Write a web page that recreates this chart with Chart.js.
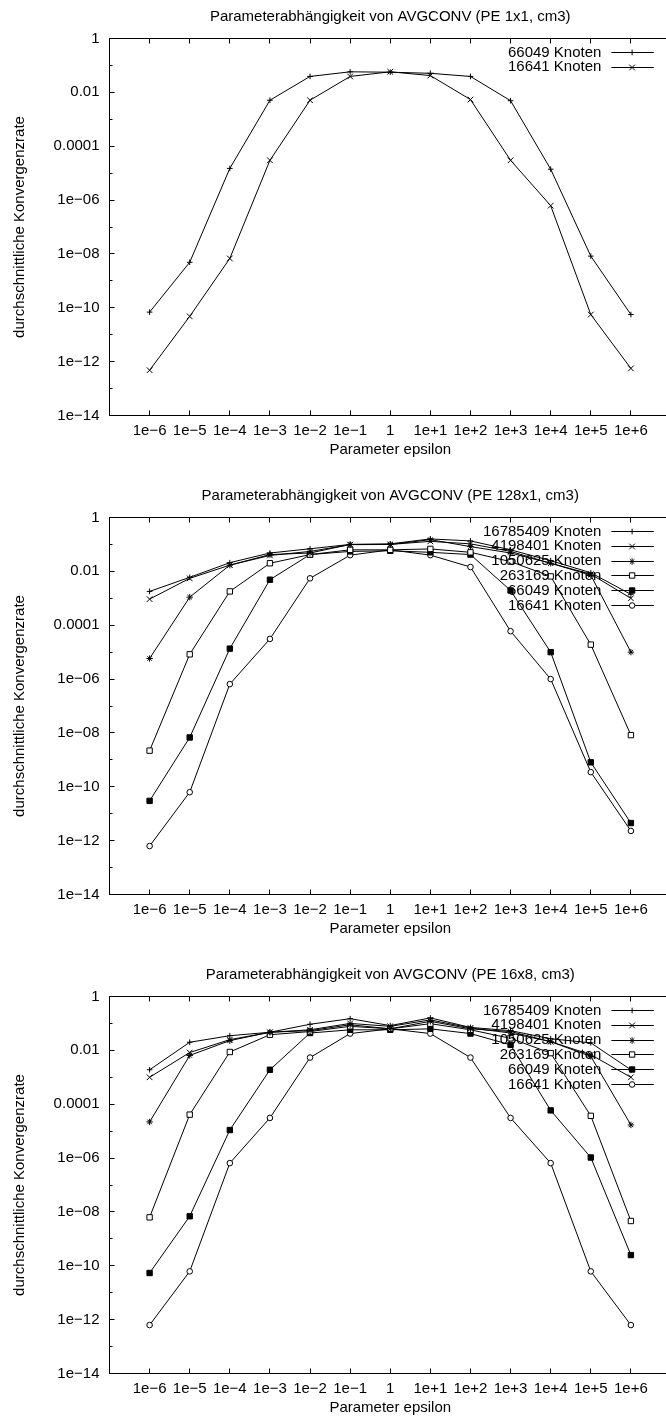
<!DOCTYPE html>
<html>
<head>
<meta charset="utf-8">
<title>Parameterabhängigkeit von AVGCONV</title>
<script src="https://cdn.jsdelivr.net/npm/chart.js@4.4.1/dist/chart.umd.min.js"></script>
<style>
    html, body { margin: 0; padding: 0; background: #fff; overflow: hidden; }
    .plot { position: absolute; left: 0; width: 676px; height: 479px; }
</style>
</head>
<body>
<div class="plot" style="top:0"><canvas id="plot1x1" width="676" height="479"></canvas></div>
<div class="plot" style="top:479px"><canvas id="plot128x1" width="676" height="479"></canvas></div>
<div class="plot" style="top:958px"><canvas id="plot16x8" width="676" height="479"></canvas></div>
<script>
// x categories (parameter epsilon) and y tick labels
const epsilonLabels = ['1e−6', '1e−5', '1e−4', '1e−3', '1e−2', '1e−1', '1',
    '1e+1', '1e+2', '1e+3', '1e+4', '1e+5', '1e+6'];
const yTickValues = [1, 1e-2, 1e-4, 1e-6, 1e-8, 1e-10, 1e-12, 1e-14];
const yTickLabels = ['1', '0.01', '0.0001', '1e−06', '1e−08', '1e−10', '1e−12', '1e−14'];

const seriesNames = ['16785409 Knoten', '4198401 Knoten', '1050625 Knoten',
    '263169 Knoten', '66049 Knoten', '16641 Knoten'];

// PE 1x1
const pe1x1_66049 = [6.9e-11, 4.9e-9, 1.5e-5, 5.1e-3, 3.9e-2, 5.8e-2, 5.6e-2, 5.1e-2, 3.9e-2, 4.9e-3, 1.4e-5, 8.3e-9, 5.6e-11];
const pe1x1_16641 = [4.8e-13, 4.8e-11, 6.8e-9, 3.0e-5, 5.1e-3, 3.9e-2, 5.8e-2, 4.2e-2, 5.4e-3, 3.0e-5, 6.2e-7, 5.6e-11, 5.6e-13];

// PE 128x1
const pe128x1_16785409 = [1.8e-3, 6.0e-3, 2.1e-2, 4.8e-2, 6.9e-2, 1.0e-1, 1.05e-1, 1.6e-1, 1.35e-1, 6.3e-2, 2.5e-2, 8.9e-3, 1.4e-3];
const pe128x1_4198401 = [9.3e-4, 5.5e-3, 1.7e-2, 3.9e-2, 5.5e-2, 9.8e-2, 1.0e-1, 1.3e-1, 1.05e-1, 5.5e-2, 2.0e-2, 7.9e-3, 1.0e-3];
const pe128x1_1050625 = [5.8e-6, 1.1e-3, 1.7e-2, 4.2e-2, 4.8e-2, 1.0e-1, 1.0e-1, 1.5e-1, 8.3e-2, 4.8e-2, 2.0e-2, 7.2e-3, 1.0e-5];
const pe128x1_263169 = [2.2e-9, 8.3e-6, 1.8e-3, 2.0e-2, 4.2e-2, 6.3e-2, 6.3e-2, 6.8e-2, 5.1e-2, 2.3e-2, 6.5e-3, 1.9e-5, 8.3e-9];
const pe128x1_66049 = [3.0e-11, 6.8e-9, 1.35e-5, 4.9e-3, 4.2e-2, 5.5e-2, 5.8e-2, 5.1e-2, 4.2e-2, 1.95e-3, 1.0e-5, 8.1e-10, 4.5e-12];
const pe128x1_16641 = [6.3e-13, 6.3e-11, 6.5e-7, 3.1e-5, 5.5e-3, 4.0e-2, 6.3e-2, 4.0e-2, 1.45e-2, 6.0e-5, 1.0e-6, 3.5e-10, 2.3e-12];

// PE 16x8
const pe16x8_16785409 = [1.9e-3, 2.0e-2, 3.5e-2, 4.7e-2, 9.3e-2, 1.5e-1, 8.3e-2, 1.6e-1, 7.1e-2, 5.4e-2, 2.7e-2, 1.9e-2, 1.9e-3];
const pe16x8_4198401 = [1.0e-3, 8.3e-3, 2.5e-2, 4.7e-2, 5.8e-2, 1.0e-1, 7.8e-2, 1.35e-1, 6.8e-2, 4.4e-2, 2.1e-2, 6.9e-3, 1.0e-3];
const pe16x8_1050625 = [2.2e-5, 6.5e-3, 2.3e-2, 4.7e-2, 5.4e-2, 8.9e-2, 6.3e-2, 1.2e-1, 6.3e-2, 5.0e-2, 2.1e-2, 6.0e-3, 1.7e-5];
const pe16x8_263169 = [6.3e-9, 4.1e-5, 8.7e-3, 3.8e-2, 5.0e-2, 7.8e-2, 6.3e-2, 9.8e-2, 5.8e-2, 2.8e-2, 7.9e-3, 3.7e-5, 4.6e-9];
const pe16x8_66049 = [5.4e-11, 6.9e-9, 1.1e-5, 1.9e-3, 4.4e-2, 5.8e-2, 5.8e-2, 6.3e-2, 4.2e-2, 1.6e-2, 5.9e-5, 1.05e-6, 2.5e-10];
const pe16x8_16641 = [6.3e-13, 6.2e-11, 6.5e-7, 3.1e-5, 5.4e-3, 4.2e-2, 6.3e-2, 4.2e-2, 5.4e-3, 3.1e-5, 6.5e-7, 6.2e-11, 6.3e-13];

// gnuplot style point types: +, x, *, open square, filled square, open circle
const markers = [
    { style: 'cross',    radius: 2.8, fill: '#000' },
    { style: 'crossRot', radius: 4,   fill: '#000' },
    { style: 'star',     radius: 3.2, fill: '#000' },
    { style: 'rect',     radius: 3.8, fill: '#fff' },
    { style: 'rect',     radius: 3.8, fill: '#000' },
    { style: 'circle',   radius: 2.8, fill: '#fff' }
];

Chart.defaults.font.family = '"Liberation Sans", Arial, sans-serif';
Chart.defaults.font.size = 15;
Chart.defaults.color = '#000';

function crisp(v) {
    return Math.floor(v) + 0.5;
}

// frame with inward tics and the key in the upper right corner
const gnuplotFrame = {
    id: 'gnuplotFrame',
    beforeDatasetsDraw: function(chart) {
        const ctx = chart.ctx;
        const a = chart.chartArea;
        const xs = chart.scales.x;
        const ys = chart.scales.y;
        ctx.save();
        ctx.strokeStyle = '#000';
        ctx.lineWidth = 1;
        ctx.strokeRect(crisp(a.left), crisp(a.top), Math.round(a.right - a.left), Math.round(a.bottom - a.top));
        ctx.beginPath();
        xs.ticks.forEach(function(t) {
            const px = crisp(xs.getPixelForValue(t.value));
            ctx.moveTo(px, crisp(a.bottom));
            ctx.lineTo(px, crisp(a.bottom) - 5);
            ctx.moveTo(px, crisp(a.top));
            ctx.lineTo(px, crisp(a.top) + 5);
        });
        for (let e = 0; e >= -14; e--) {
            const py = crisp(ys.getPixelForValue(Math.pow(10, e)));
            const len = (e % 2 === 0) ? 5 : 3;
            ctx.moveTo(crisp(a.left), py);
            ctx.lineTo(crisp(a.left) + len, py);
        }
        ctx.stroke();
        ctx.restore();
    },
    afterDatasetsDraw: function(chart) {
        const ctx = chart.ctx;
        const a = chart.chartArea;
        ctx.save();
        ctx.font = '15px "Liberation Sans", Arial, sans-serif';
        ctx.textAlign = 'right';
        ctx.textBaseline = 'middle';
        ctx.fillStyle = '#000';
        ctx.strokeStyle = '#000';
        ctx.lineWidth = 1;
        chart.data.datasets.forEach(function(ds, i) {
            const y = a.top + 14 + i * 14.8;
            ctx.fillText(ds.label, a.right - 69.6, y);
            ctx.beginPath();
            ctx.moveTo(a.right - 59.6, crisp(y));
            ctx.lineTo(a.right - 17.2, crisp(y));
            ctx.stroke();
            ctx.fillStyle = ds.pointBackgroundColor;
            Chart.helpers.drawPoint(ctx, {
                pointStyle: ds.pointStyle,
                radius: ds.pointRadius,
                borderWidth: 1,
                rotation: 0
            }, a.right - 38.9, crisp(y));
            ctx.fillStyle = '#000';
        });
        ctx.restore();
    }
};

function makeChart(canvasId, title, names, series, markerOffset) {
    const datasets = series.map(function(values, i) {
        const m = markers[i + markerOffset];
        return {
            label: names[i],
            data: values.map(function(v, k) { return { x: k, y: v }; }),
            borderColor: '#000',
            borderWidth: 1,
            pointStyle: m.style,
            pointRadius: m.radius,
            pointBorderColor: '#000',
            pointBackgroundColor: m.fill,
            pointBorderWidth: 1,
            fill: false,
            tension: 0
        };
    });

    return new Chart(document.getElementById(canvasId), {
        type: 'line',
        data: { datasets: datasets },
        options: {
            responsive: false,
            animation: false,
            events: [],
            layout: { padding: { left: 0, right: 2, top: 0, bottom: 20 } },
            plugins: {
                legend: { display: false },
                tooltip: { enabled: false },
                title: {
                    display: true,
                    text: title,
                    fullSize: false,
                    font: { size: 15, weight: 'normal' },
                    color: '#000',
                    padding: { top: 8, bottom: 12.5 }
                }
            },
            scales: {
                x: {
                    type: 'linear',
                    min: -1,
                    max: 13,
                    afterBuildTicks: function(scale) {
                        scale.ticks = epsilonLabels.map(function(_, i) { return { value: i }; });
                    },
                    afterFit: function(scale) { scale.height = 43.5; },
                    ticks: {
                        callback: function(value) { return epsilonLabels[value]; },
                        padding: 6,
                        maxRotation: 0,
                        autoSkip: false
                    },
                    grid: { display: false, drawTicks: false },
                    border: { display: false },
                    title: { display: true, text: 'Parameter epsilon', padding: { top: 0, bottom: 0 } }
                },
                y: {
                    type: 'logarithmic',
                    min: 1e-14,
                    max: 1,
                    afterBuildTicks: function(scale) {
                        scale.ticks = yTickValues.map(function(v) { return { value: v }; });
                    },
                    afterFit: function(scale) { scale.width = 109.5; },
                    ticks: {
                        callback: function(value, index) { return yTickLabels[index]; },
                        padding: 10,
                        autoSkip: false
                    },
                    grid: { display: false, drawTicks: false },
                    border: { display: false },
                    title: {
                        display: true,
                        text: 'durchschnittliche Konvergenzrate',
                        padding: { top: 11, bottom: 0 }
                    }
                }
            }
        },
        plugins: [gnuplotFrame]
    });
}

makeChart('plot1x1', 'Parameterabhängigkeit von AVGCONV (PE 1x1, cm3)',
    ['66049 Knoten', '16641 Knoten'], [pe1x1_66049, pe1x1_16641], 0);

makeChart('plot128x1', 'Parameterabhängigkeit von AVGCONV (PE 128x1, cm3)', seriesNames,
    [pe128x1_16785409, pe128x1_4198401, pe128x1_1050625, pe128x1_263169, pe128x1_66049, pe128x1_16641], 0);

makeChart('plot16x8', 'Parameterabhängigkeit von AVGCONV (PE 16x8, cm3)', seriesNames,
    [pe16x8_16785409, pe16x8_4198401, pe16x8_1050625, pe16x8_263169, pe16x8_66049, pe16x8_16641], 0);
</script>
</body>
</html>
